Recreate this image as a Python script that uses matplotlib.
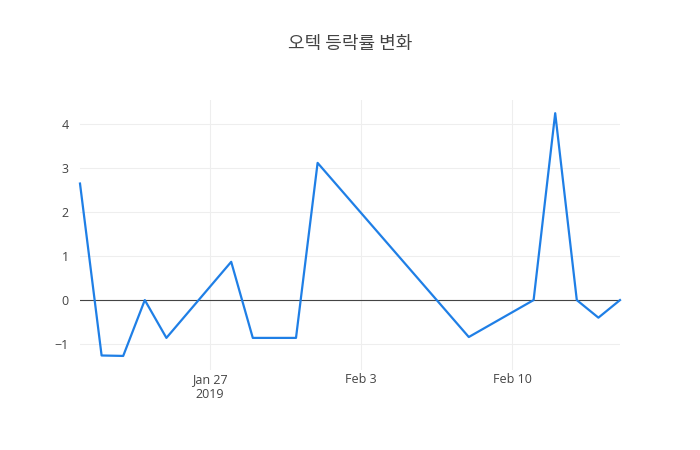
import numpy as np
import matplotlib
matplotlib.use("Agg")
import matplotlib.pyplot as plt
import matplotlib.dates as mdates
from datetime import datetime

dates = ["2019-01-21", "2019-01-22", "2019-01-23", "2019-01-24", "2019-01-25",
         "2019-01-28", "2019-01-29", "2019-01-31", "2019-02-01", "2019-02-08",
         "2019-02-11", "2019-02-12", "2019-02-13", "2019-02-14", "2019-02-15"]
change = [2.65, -1.26, -1.27, 0.0, -0.86, 0.87, -0.86, -0.86, 3.12, -0.84,
          0.0, 4.25, 0.0, -0.40, 0.0]
xticks = ["2019-01-27", "2019-02-03", "2019-02-10"]
xtick_labels = ["Jan 27\n2019", "Feb 3", "Feb 10"]
yticks = [-1, 0, 1, 2, 3, 4]

x = [datetime.strptime(d, "%Y-%m-%d") for d in dates]

plt.rcParams['font.family'] = ['Open Sans', 'DejaVu Sans']
fig = plt.figure(figsize=(7, 4.5), dpi=100)
ax = fig.add_axes([80 / 700, 1 - 370 / 450, 540 / 700, 270 / 450])

ax.plot(x, change, color="#1f7fe6", lw=1.6, zorder=3, clip_on=False)
ax.axhline(0, color="#444444", lw=0.8, zorder=2)

ax.set_xlim(x[0], x[-1])
ax.set_ylim(-1.59, 4.55)
ax.set_xticks([mdates.date2num(datetime.strptime(d, "%Y-%m-%d")) for d in xticks])
ax.set_xticklabels(xtick_labels)
ax.set_yticks(yticks)
ax.set_yticklabels([str(v).replace("-", "\u2212") for v in yticks])
ax.grid(True, color="#eeeeee", lw=0.8, zorder=0)
for s in ax.spines.values():
    s.set_visible(False)
ax.tick_params(length=0, labelsize=9, labelcolor="#444444")
ax.tick_params(axis="x", pad=2)
ax.tick_params(axis="y", pad=8)

fig.text(0.5, 1 - 44 / 450, "오텍 등락률 변화", ha="center", va="center",
         fontsize=13, color="#444444", family=["Noto Sans CJK KR", "DejaVu Sans"])

fig.savefig("out.png", dpi=100)
